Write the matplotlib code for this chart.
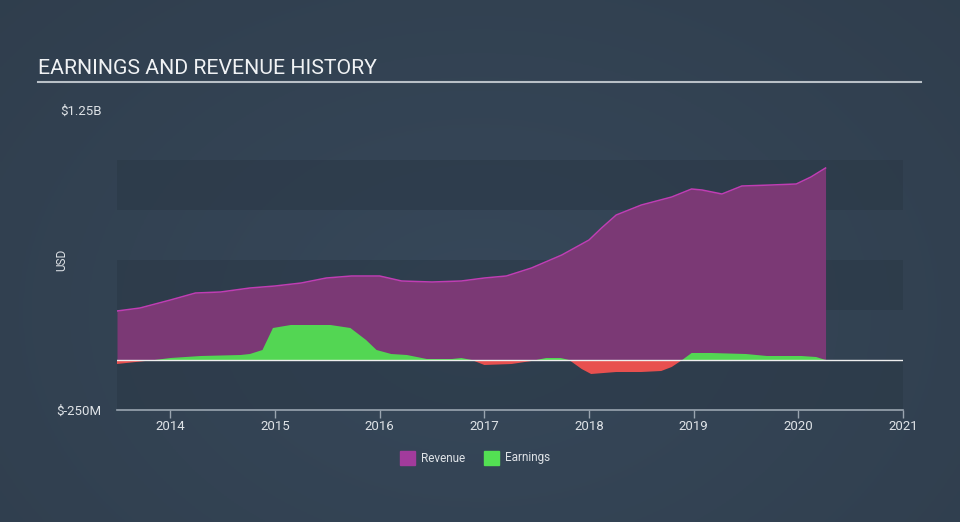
import numpy as np
import matplotlib
matplotlib.use("Agg")
import matplotlib.pyplot as plt
from matplotlib.patches import Rectangle

plt.rcParams["font.family"] = ["Roboto", "DejaVu Sans"]

# ---- data (values in billions USD) ----
rev_x = [2013.49, 2013.71, 2014.00, 2014.24, 2014.48, 2014.76, 2015.00, 2015.25, 2015.49,
         2015.73, 2016.00, 2016.21, 2016.50, 2016.78, 2017.00, 2017.21, 2017.45, 2017.74,
         2018.00, 2018.12, 2018.26, 2018.50, 2018.79, 2018.98, 2019.08, 2019.27, 2019.46,
         2019.74, 2019.98, 2020.12, 2020.26]
rev_y = [0.245, 0.26, 0.30, 0.335, 0.34, 0.36, 0.37, 0.385, 0.41,
         0.42, 0.42, 0.395, 0.39, 0.395, 0.41, 0.42, 0.46, 0.525,
         0.60, 0.66, 0.725, 0.775, 0.815, 0.855, 0.85, 0.83, 0.87,
         0.875, 0.88, 0.915, 0.96]

earn_x = [2013.49, 2013.85, 2014.00, 2014.29, 2014.67, 2014.76, 2014.88, 2014.98, 2015.15,
          2015.53, 2015.72, 2015.87, 2015.97, 2016.11, 2016.26, 2016.45, 2016.69, 2016.78,
          2016.88, 2017.00, 2017.26, 2017.45, 2017.59, 2017.73, 2017.81, 2017.93, 2018.02,
          2018.26, 2018.50, 2018.69, 2018.79, 2018.89, 2018.98, 2019.17, 2019.50, 2019.70,
          2020.03, 2020.17, 2020.26]
earn_y = [-0.02, 0.0, 0.01, 0.02, 0.025, 0.03, 0.05, 0.16, 0.175,
          0.175, 0.16, 0.10, 0.05, 0.03, 0.025, 0.005, 0.005, 0.01,
          0.0, -0.025, -0.02, -0.005, 0.01, 0.01, 0.0, -0.045, -0.07,
          -0.06, -0.06, -0.055, -0.035, 0.0, 0.035, 0.035, 0.03, 0.02,
          0.02, 0.015, 0.0]

year_ticks = [2014, 2015, 2016, 2017, 2018, 2019, 2020, 2021]
ytick_vals = [1.25, -0.25]
ytick_labels = ["$1.25B", "$-250M"]

W, H = 960, 522
fig = plt.figure(figsize=(W / 100, H / 100), dpi=100)
fig.patch.set_facecolor("#334353")

# subtle background gradient
bg = fig.add_axes([0, 0, 1, 1], zorder=-10)
yy, xx = np.mgrid[0:1:200j, 0:1:300j]
d = np.sqrt(((xx - 0.5) / 0.75) ** 2 + ((yy - 0.4) / 1.0) ** 2)
c0 = np.array([0x37, 0x48, 0x5a]) / 255
c1 = np.array([0x2f, 0x3d, 0x4c]) / 255
t = np.clip(d, 0, 1)[..., None]
img = c0 * (1 - t) + c1 * t
bg.imshow(img, aspect="auto", extent=[0, 1, 0, 1], origin="lower")
bg.axis("off")

x0, x1 = 117 / W, 903 / W
yb, yt = 1 - 410 / H, 1 - 110 / H
ax = fig.add_axes([x0, yb, x1 - x0, yt - yb])
ax.set_facecolor("none")
ax.set_xlim(2013.49, 2021.0)
ax.set_ylim(-0.25, 1.25)

# bands
for lo, hi in [(-0.25, 0.0), (0.25, 0.5), (0.75, 1.0)]:
    ax.axhspan(lo, hi, color="#2a3846", alpha=0.55, lw=0, zorder=0)

rx = np.array(rev_x); ry = np.array(rev_y)
ax.fill_between(rx, 0, ry, color="#7b3975", lw=0, zorder=2)
ax.plot(rx, ry, color="#c03db3", lw=1.1, zorder=3)

ex = np.array(earn_x); ey = np.array(earn_y)
ax.fill_between(ex, 0, ey, where=ey >= 0, interpolate=True, color="#53d653", lw=0, zorder=4)
ax.fill_between(ex, 0, ey, where=ey <= 0, interpolate=True, color="#e8504f", lw=0, zorder=4)

ax.axhline(0, color="#eeeeee", lw=1.0, zorder=5)

for s in ["top", "right", "left"]:
    ax.spines[s].set_visible(False)
ax.spines["bottom"].set_color("#9aa5b0")
ax.spines["bottom"].set_linewidth(1.2)

ax.set_xticks(year_ticks)
ax.set_xticklabels([str(y) for y in year_ticks])
ax.tick_params(axis="x", colors="#9aa5b0", labelcolor="#dfe3e7", length=6, width=1, labelsize=9.5, pad=1)
ax.set_yticks(ytick_vals)
ax.set_yticklabels(ytick_labels)
ax.tick_params(axis="y", length=0, labelcolor="#dfe3e7", labelsize=9.5, pad=11)

fig.text(62 / W, 1 - 260 / H, "USD", rotation=90, color="#dfe3e7", fontsize=8.5, ha="center", va="center")

# title
fig.text(38 / W, 1 - 68 / H, "EARNINGS AND REVENUE HISTORY", color="#f0f2f4", fontsize=15.3,
         ha="left", va="center")
fig.add_artist(plt.Line2D([38 / W, 921 / W], [1 - 82 / H, 1 - 82 / H], color="#b9c0c7", lw=1.5))

# legend
ly = 1 - 458 / H
sq_h = 14 / H
fig.add_artist(Rectangle((400 / W, ly - sq_h / 2), 15 / W, sq_h, color="#a23b9c"))
fig.text(421 / W, ly, "Revenue", color="#dfe3e7", fontsize=8.5, va="center", ha="left")
fig.add_artist(Rectangle((484 / W, ly - sq_h / 2), 15 / W, sq_h, color="#53e053"))
fig.text(505 / W, ly, "Earnings", color="#dfe3e7", fontsize=8.5, va="center", ha="left")

fig.savefig("out.png", dpi=100, facecolor=fig.get_facecolor())
